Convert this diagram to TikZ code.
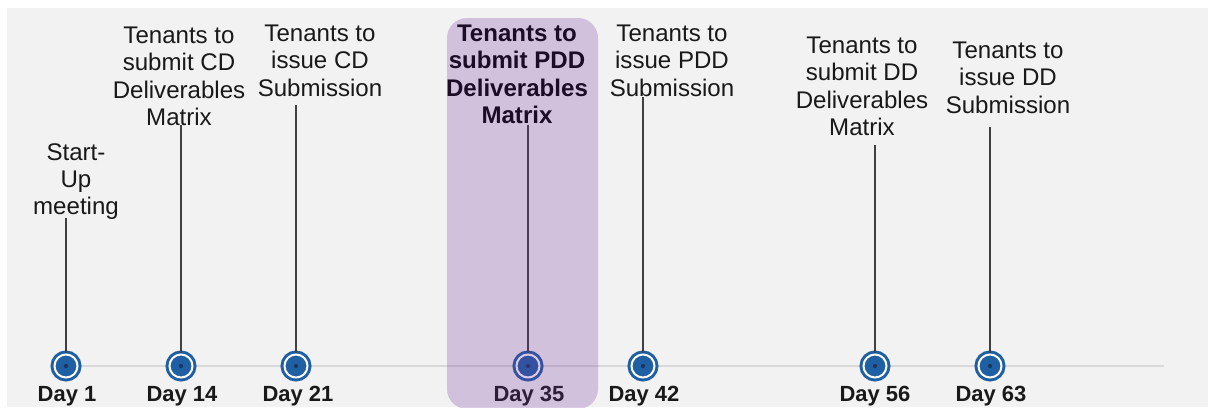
\documentclass[tikz,border=0pt]{standalone}
\usepackage{fontspec}
\setmainfont{Liberation Sans}
\usetikzlibrary{positioning}

\definecolor{panel}{HTML}{F2F2F2}
\definecolor{axis}{HTML}{D9D9D9}
\definecolor{stem}{HTML}{404040}
\definecolor{mblue}{HTML}{1F5FA3}
\definecolor{mdot}{HTML}{1A355E}
\definecolor{hilite}{HTML}{7030A0}

\tikzset{
  task/.style={align=center, inner sep=0pt, anchor=north, text=black!90,
    font=\fontsize{13.7}{15.4}\selectfont},
  keytask/.style={task, text=black, font=\fontsize{13.7}{15.4}\selectfont\bfseries},
  milestone/.style={circle, fill=mblue, draw=mblue, double=white,
    double distance=0.04cm, line width=0.06cm, minimum size=0.46cm, inner sep=0pt,
    path picture={\fill[mdot] (path picture bounding box.center) circle (1.2pt);}},
  daylabel/.style={inner sep=0pt, anchor=north, text=black!90,
    font=\fontsize{12.5}{14}\selectfont\bfseries},
  stemline/.style={draw=stem, line width=0.04cm}
}

\begin{document}
\begin{tikzpicture}[x=0.02cm, y=-0.02cm]
	%%%%% START %%%%%
	\useasboundingbox[fill=white] (0, 0) rectangle (1208, 407);
	\fill[panel] (7, 8) rectangle (1208, 407);
	
	% axis
	\coordinate (axis-l) at (66, 366);
	\coordinate (axis-r) at (1164, 366);
	\draw[draw=axis, line width=0.04cm] (axis-l) -- (axis-r);
	
	% tops of the stems
	\coordinate (s1) at (66, 218);
	\coordinate (s2) at (181, 125);
	\coordinate (s3) at (296, 105);
	\coordinate (s4) at (528, 125);
	\coordinate (s5) at (643, 97);
	\coordinate (s6) at (875, 145);
	\coordinate (s7) at (990, 127);
	
	% milestones
	\node[milestone] (m1) at (66, 366) {};
	\node[milestone] (m2) at (181, 366) {};
	\node[milestone] (m3) at (296, 366) {};
	\node[milestone] (m4) at (528, 366) {};
	\node[milestone] (m5) at (643, 366) {};
	\node[milestone] (m6) at (875, 366) {};
	\node[milestone] (m7) at (990, 366) {};
	
	\draw[stemline] (s1) -- (m1);
	\draw[stemline] (s2) -- (m2);
	\draw[stemline] (s3) -- (m3);
	\draw[stemline] (s4) -- (m4);
	\draw[stemline] (s5) -- (m5);
	\draw[stemline] (s6) -- (m6);
	\draw[stemline] (s7) -- (m7);
	
	% days
	\node[daylabel] (d1) at (67, 386) {Day 1};
	\node[daylabel] (d2) at (182, 386) {Day 14};
	\node[daylabel] (d3) at (298, 386) {Day 21};
	\node[daylabel] (d4) at (529, 386) {Day 35};
	\node[daylabel] (d5) at (644, 386) {Day 42};
	\node[daylabel] (d6) at (875, 386) {Day 56};
	\node[daylabel] (d7) at (991, 386) {Day 63};
	
	% tasks
	\node[task] (t1) at (76, 143) {Start-\\Up\\meeting};
	\node[task] (t2) at (179, 27) {Tenants to\\submit CD\\Deliverables\\Matrix};
	\node[task] (t3) at (320, 25) {Tenants to\\issue CD\\Submission};
	\node[keytask] (t4) at (517, 25) {Tenants to\\submit PDD\\Deliverables\\Matrix};
	\node[task] (t5) at (672, 25) {Tenants to\\issue PDD\\Submission};
	\node[task] (t6) at (862, 37) {Tenants to\\submit DD\\Deliverables\\Matrix};
	\node[task] (t7) at (1008, 42) {Tenants to\\issue DD\\Submission};
	
	% focus band
	\fill[hilite, opacity=0.25, rounded corners=0.4cm] (447, 18) rectangle (598, 409);
	%%%%% END %%%%%
\end{tikzpicture}
\end{document}
